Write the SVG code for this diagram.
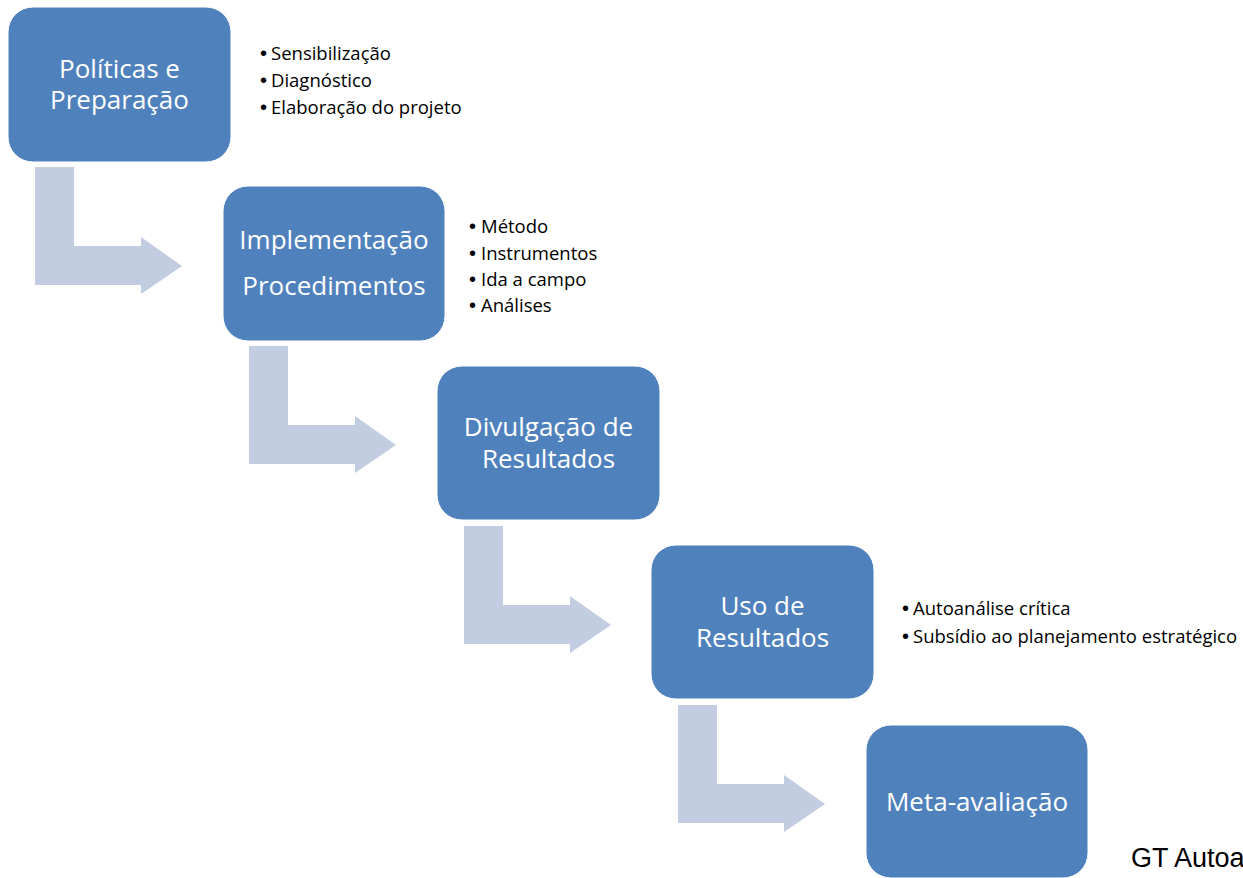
<svg xmlns="http://www.w3.org/2000/svg" width="1243" height="878" viewBox="0 0 1243 878">
<style>
.box{fill:#4f81bd;stroke:#ffffff;stroke-width:1}
.arr{fill:#c3cde1}
.bt{font-family:"Open Sans","Liberation Sans",sans-serif;font-size:26px;fill:#ffffff;text-anchor:middle}
.bl{font-family:"Open Sans","Liberation Sans",sans-serif;font-size:18.5px;fill:#000000}
.bu{font-family:"Liberation Sans",sans-serif;font-size:20px}
.gt{font-family:"Liberation Sans",Arial,sans-serif;font-size:27px;fill:#000000}
</style>
<defs>
<path id="bend" d="M0,0 H39 V79 H106 V70 L147,99 L106,127 V118 H0 Z"/>
</defs>
<rect width="1243" height="878" fill="#ffffff"/>
<g id="connectors">
<use href="#bend" class="arr" x="35" y="167"/>
<use href="#bend" class="arr" x="249" y="346"/>
<use href="#bend" class="arr" x="464" y="526"/>
<use href="#bend" class="arr" x="678" y="705"/>
</g>
<g id="n1">
<rect class="box" x="8" y="7" width="223" height="155" rx="25"/>
<text class="bt" x="119.5" y="78">Políticas e</text>
<text class="bt" x="119.5" y="109">Preparação</text>
</g>
<g id="n1-list">
<text class="bl" y="60"><tspan class="bu" x="260">•</tspan><tspan x="271">Sensibilização</tspan></text>
<text class="bl" y="87"><tspan class="bu" x="260">•</tspan><tspan x="271">Diagnóstico</tspan></text>
<text class="bl" y="114"><tspan class="bu" x="260">•</tspan><tspan x="271">Elaboração do projeto</tspan></text>
</g>
<g id="n2">
<rect class="box" x="223" y="186" width="222" height="155" rx="25"/>
<text class="bt" x="334" y="249">Implementação</text>
<text class="bt" x="334" y="295">Procedimentos</text>
</g>
<g id="n2-list">
<text class="bl" y="233"><tspan class="bu" x="469">•</tspan><tspan x="481">Método</tspan></text>
<text class="bl" y="260"><tspan class="bu" x="469">•</tspan><tspan x="481">Instrumentos</tspan></text>
<text class="bl" y="286"><tspan class="bu" x="469">•</tspan><tspan x="481">Ida a campo</tspan></text>
<text class="bl" y="312"><tspan class="bu" x="469">•</tspan><tspan x="481">Análises</tspan></text>
</g>
<g id="n3">
<rect class="box" x="437" y="366" width="223" height="154" rx="25"/>
<text class="bt" x="548.5" y="436">Divulgação de</text>
<text class="bt" x="548.5" y="468">Resultados</text>
</g>
<g id="n4">
<rect class="box" x="651" y="545" width="223" height="154" rx="25"/>
<text class="bt" x="762.5" y="615">Uso de</text>
<text class="bt" x="762.5" y="647">Resultados</text>
</g>
<g id="n4-list">
<text class="bl" y="615"><tspan class="bu" x="902">•</tspan><tspan x="913">Autoanálise crítica</tspan></text>
<text class="bl" y="643"><tspan class="bu" x="902">•</tspan><tspan x="913">Subsídio ao planejamento estratégico</tspan></text>
</g>
<g id="n5">
<rect class="box" x="866" y="725" width="222" height="153" rx="25"/>
<text class="bt" x="977" y="811">Meta-avaliação</text>
</g>
<text class="gt" x="1131" y="867">GT Autoa</text>
</svg>
